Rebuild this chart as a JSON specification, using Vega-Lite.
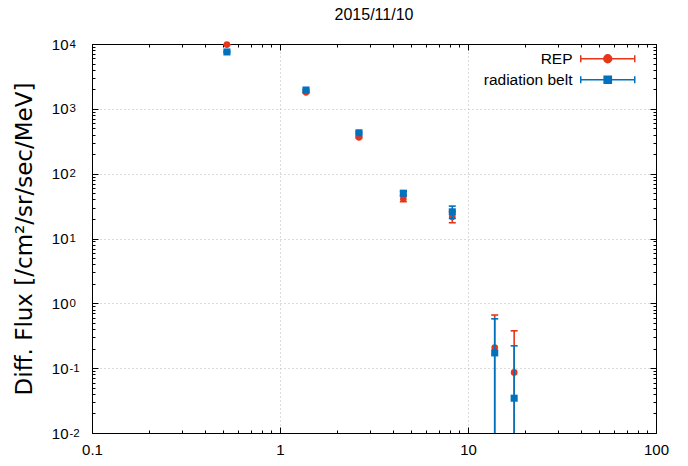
{
  "$schema": "https://vega.github.io/schema/vega-lite/v6.json",
  "width": 564,
  "height": 389,
  "autosize": {"type": "none"},
  "padding": {"left": 92, "top": 44, "right": 32, "bottom": 33},
  "background": "white",
  "title": {"text": "2015/11/10", "fontSize": 16, "fontWeight": "normal", "font": "Liberation Sans", "color": "#000", "anchor": "middle", "frame": "group", "offset": 14},
  "config": {
    "view": {"stroke": null},
    "axis": {"labelFont": "Liberation Sans", "titleFont": "Liberation Sans", "labelColor": "#000", "titleColor": "#000", "tickColor": "#000", "domainColor": "#000", "labelFlush": false, "labelOverlap": false, "labelBound": false},
    "legend": {"labelFont": "Liberation Sans"}
  },
  "data": {"values": [
    {"series": "REP", "x": 0.522, "y": 9800, "lo": 9650, "hi": 9950},
    {"series": "REP", "x": 1.375, "y": 1800, "lo": 1760, "hi": 1840},
    {"series": "REP", "x": 2.63, "y": 363, "lo": 352, "hi": 374},
    {"series": "REP", "x": 4.53, "y": 41, "lo": 37, "hi": 45},
    {"series": "REP", "x": 8.25, "y": 21.6, "lo": 17.5, "hi": 26},
    {"series": "REP", "x": 13.87, "y": 0.208, "lo": 0.001, "hi": 0.66},
    {"series": "REP", "x": 17.6, "y": 0.086, "lo": 0.001, "hi": 0.377},
    {"series": "radiation belt", "x": 0.522, "y": 7540, "lo": 7400, "hi": 7680},
    {"series": "radiation belt", "x": 1.375, "y": 1950, "lo": 1900, "hi": 2000},
    {"series": "radiation belt", "x": 2.63, "y": 427, "lo": 412, "hi": 442},
    {"series": "radiation belt", "x": 4.53, "y": 50, "lo": 46, "hi": 54},
    {"series": "radiation belt", "x": 8.25, "y": 25.8, "lo": 20.4, "hi": 31.6},
    {"series": "radiation belt", "x": 13.87, "y": 0.172, "lo": 0.001, "hi": 0.577},
    {"series": "radiation belt", "x": 17.6, "y": 0.0344, "lo": 0.001, "hi": 0.221}
  ]},
  "resolve": {"axis": {"x": "independent", "y": "independent"}},
  "layer": [
    {
      "transform": [{"filter": "datum.series === 'REP'"}],
      "mark": {"type": "rule", "color": "#e8351a", "strokeWidth": 1.6, "clip": true},
      "encoding": {
        "x": {"field": "x", "type": "quantitative", "scale": {"type": "log", "domain": [0.1, 100], "nice": false},
          "axis": {"orient": "bottom", "title": null, "values": [0.1, 1, 10, 100], "labelExpr": "datum.value < 1 ? '0.1' : format(datum.value, 'd')", "ticks": false, "domain": true, "grid": true, "gridDash": [1, 3], "gridColor": "#b8b8b8", "labelFontSize": 15, "labelPadding": 9}},
        "y": {"field": "lo", "type": "quantitative", "scale": {"type": "log", "domain": [0.01, 10000], "nice": false},
          "axis": {"orient": "left", "title": "Diff. Flux [/cm²/sr/sec/MeV]", "titleFont": "DejaVu Sans", "titleFontSize": 23, "titleFontWeight": "normal", "titlePadding": 15, "values": [0.01, 0.1, 1, 10, 100, 1000, 10000], "labelExpr": "'10'", "labelAlign": "right", "labelBaseline": "middle", "labelPadding": 24, "labelFontSize": 15, "ticks": false, "domain": true, "grid": true, "gridDash": [1, 3], "gridColor": "#b8b8b8"}},
        "y2": {"field": "hi"}
      }
    },
    {
      "transform": [{"filter": "datum.series === 'REP'"}],
      "mark": {"type": "tick", "orient": "horizontal", "size": 7, "thickness": 1.6, "color": "#e8351a", "opacity": 1, "clip": true},
      "encoding": {
        "x": {"field": "x", "type": "quantitative", "axis": {"orient": "bottom", "title": null, "values": [0.1, 1, 10, 100], "labels": false, "domain": false, "grid": false, "ticks": true, "tickSize": -6}},
        "y": {"field": "lo", "type": "quantitative", "axis": {"orient": "left", "title": null, "values": [0.01, 0.1, 1, 10, 100, 1000, 10000], "labelExpr": "['-2','-1','0','1','2','3','4'][round(log(datum.value)/LN10)+2]", "labelAlign": "left", "labelBaseline": "middle", "labelPadding": 23, "labelDy": -7, "labelFontSize": 11.5, "ticks": false, "domain": false, "grid": false}}
      }
    },
    {
      "transform": [{"filter": "datum.series === 'REP'"}],
      "mark": {"type": "tick", "orient": "horizontal", "size": 7, "thickness": 1.6, "color": "#e8351a", "opacity": 1, "clip": true},
      "encoding": {
        "x": {"field": "x", "type": "quantitative", "axis": {"orient": "bottom", "title": null, "values": [0.2, 0.3, 0.4, 0.5, 0.6, 0.7, 0.8, 0.9, 2, 3, 4, 5, 6, 7, 8, 9, 20, 30, 40, 50, 60, 70, 80, 90], "labels": false, "domain": false, "grid": false, "ticks": true, "tickSize": -3}},
        "y": {"field": "hi", "type": "quantitative", "axis": {"orient": "left", "title": null, "values": [0.01, 0.1, 1, 10, 100, 1000, 10000], "labels": false, "domain": false, "grid": false, "ticks": true, "tickSize": -6}}
      }
    },
    {
      "transform": [{"filter": "datum.series === 'REP'"}],
      "mark": {"type": "point", "shape": "circle", "filled": true, "size": 45, "color": "#e8351a", "opacity": 1},
      "encoding": {
        "x": {"field": "x", "type": "quantitative", "axis": {"orient": "top", "title": null, "values": [0.1, 1, 10, 100], "labels": false, "domain": true, "grid": false, "ticks": true, "tickSize": -6}},
        "y": {"field": "y", "type": "quantitative", "axis": {"orient": "left", "title": null, "values": [0.02, 0.03, 0.04, 0.05, 0.06, 0.07, 0.08, 0.09, 0.2, 0.3, 0.4, 0.5, 0.6, 0.7, 0.8, 0.9, 2, 3, 4, 5, 6, 7, 8, 9, 20, 30, 40, 50, 60, 70, 80, 90, 200, 300, 400, 500, 600, 700, 800, 900, 2000, 3000, 4000, 5000, 6000, 7000, 8000, 9000], "labels": false, "domain": false, "grid": false, "ticks": true, "tickSize": -3}}
      }
    },
    {
      "transform": [{"filter": "datum.series === 'radiation belt'"}],
      "mark": {"type": "rule", "color": "#0072bd", "strokeWidth": 1.6, "clip": true},
      "encoding": {
        "x": {"field": "x", "type": "quantitative", "axis": {"orient": "top", "title": null, "values": [0.2, 0.3, 0.4, 0.5, 0.6, 0.7, 0.8, 0.9, 2, 3, 4, 5, 6, 7, 8, 9, 20, 30, 40, 50, 60, 70, 80, 90], "labels": false, "domain": false, "grid": false, "ticks": true, "tickSize": -3}},
        "y": {"field": "lo", "type": "quantitative", "axis": {"orient": "right", "title": null, "values": [0.01, 0.1, 1, 10, 100, 1000, 10000], "labels": false, "domain": true, "grid": false, "ticks": true, "tickSize": -6}},
        "y2": {"field": "hi"}
      }
    },
    {
      "transform": [{"filter": "datum.series === 'radiation belt'"}],
      "mark": {"type": "tick", "orient": "horizontal", "size": 7, "thickness": 1.6, "color": "#0072bd", "opacity": 1, "clip": true},
      "encoding": {
        "x": {"field": "x", "type": "quantitative", "axis": null},
        "y": {"field": "lo", "type": "quantitative", "axis": {"orient": "right", "title": null, "values": [0.02, 0.03, 0.04, 0.05, 0.06, 0.07, 0.08, 0.09, 0.2, 0.3, 0.4, 0.5, 0.6, 0.7, 0.8, 0.9, 2, 3, 4, 5, 6, 7, 8, 9, 20, 30, 40, 50, 60, 70, 80, 90, 200, 300, 400, 500, 600, 700, 800, 900, 2000, 3000, 4000, 5000, 6000, 7000, 8000, 9000], "labels": false, "domain": false, "grid": false, "ticks": true, "tickSize": -3}}
      }
    },
    {
      "transform": [{"filter": "datum.series === 'radiation belt'"}],
      "mark": {"type": "tick", "orient": "horizontal", "size": 7, "thickness": 1.6, "color": "#0072bd", "opacity": 1, "clip": true},
      "encoding": {
        "x": {"field": "x", "type": "quantitative", "axis": null},
        "y": {"field": "hi", "type": "quantitative", "axis": null}
      }
    },
    {
      "transform": [{"filter": "datum.series === 'radiation belt'"}],
      "mark": {"type": "point", "shape": "square", "filled": true, "size": 50, "color": "#0072bd", "opacity": 1},
      "encoding": {
        "x": {"field": "x", "type": "quantitative", "axis": null},
        "y": {"field": "y", "type": "quantitative", "axis": null}
      }
    },
    {
      "transform": [{"filter": "false"}],
      "mark": {"type": "point", "filled": true, "opacity": 1, "strokeWidth": 1.5},
      "encoding": {
        "x": {"field": "x", "type": "quantitative", "axis": null},
        "y": {"field": "y", "type": "quantitative", "axis": null},
        "fill": {"field": "series", "type": "nominal", "scale": {"domain": ["REP", "radiation belt"], "range": ["#e8351a", "#0072bd"]},
          "legend": {"title": null, "orient": "none", "legendX": 508, "legendY": 7, "labelAlign": "right", "labelOffset": -43, "labelFontSize": 15.5, "labelColor": "#000", "symbolSize": 144, "symbolStrokeWidth": 1.5, "symbolOpacity": 1, "rowPadding": 4, "padding": 0, "labelLimit": 300}},
        "stroke": {"field": "series", "type": "nominal", "scale": {"domain": ["REP", "radiation belt"], "range": ["#e8351a", "#0072bd"]},
          "legend": {"title": null, "orient": "none", "legendX": 508, "legendY": 7, "labelAlign": "right", "labelOffset": -43, "labelFontSize": 15.5, "labelColor": "#000", "symbolSize": 144, "symbolStrokeWidth": 1.5, "symbolOpacity": 1, "rowPadding": 4, "padding": 0, "labelLimit": 300}},
        "shape": {"field": "series", "type": "nominal", "scale": {"domain": ["REP", "radiation belt"], "range": ["M-4.5,0H4.5M-4.5,-0.6V0.6M4.5,-0.6V0.6M0.65,0A0.65,0.65 0 1,1 -0.65,0A0.65,0.65 0 1,1 0.65,0Z", "M-4.5,0H4.5M-4.5,-0.6V0.6M4.5,-0.6V0.6M-0.6,-0.6H0.6V0.6H-0.6Z"]},
          "legend": {"title": null, "orient": "none", "legendX": 508, "legendY": 7, "labelAlign": "right", "labelOffset": -43, "labelFontSize": 15.5, "labelColor": "#000", "symbolSize": 144, "symbolStrokeWidth": 1.5, "symbolOpacity": 1, "rowPadding": 4, "padding": 0, "labelLimit": 300}}
      }
    }
  ]
}
